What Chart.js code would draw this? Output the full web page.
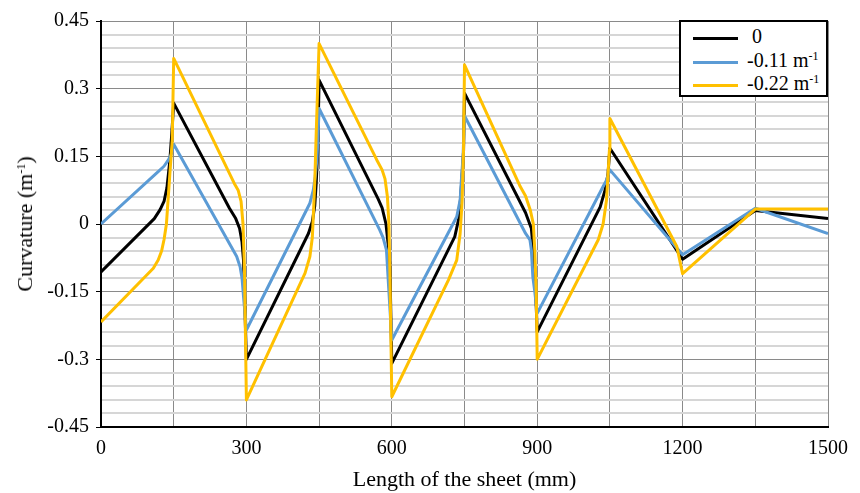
<!DOCTYPE html>
<html>
<head>
<meta charset="utf-8">
<script src="https://cdn.jsdelivr.net/npm/chart.js@4.4.1/dist/chart.umd.min.js"></script>
<style>
    body { margin: 0; background: #fff; }
    .wrap { position: relative; width: 860px; height: 493px; font-family: 'Liberation Serif', 'Times New Roman', serif; color: #000; }
    .y-title { position: absolute; left: 25px; top: 224px; transform: translate(-50%, -50%) rotate(-90deg); white-space: nowrap; font-size: 22px; }
    .legend { position: absolute; left: 679px; top: 20px; width: 145px; height: 73px; border: 2px solid #000; background: #fff; font-size: 20px; }
    .legend-row { position: absolute; left: 12px; height: 22px; line-height: 22px; white-space: nowrap; }
    .legend-line { display: inline-block; width: 45px; height: 3px; vertical-align: middle; margin-right: 9px; }
    sup { font-size: 12px; vertical-align: 7px; line-height: 0; }
</style>
</head>
<body>
<div class="wrap">
    <canvas id="chart" width="860" height="493"></canvas>
    <div class="y-title">Curvature (m<sup>-1</sup>)</div>
    <div class="legend">
        <div class="legend-row" style="top:3px"><span class="legend-line" style="background:#000000"></span><span style="margin-left:5px">0</span></div>
        <div class="legend-row" style="top:27px"><span class="legend-line" style="background:#5b9bd5"></span>-0.11 m<sup>-1</sup></div>
        <div class="legend-row" style="top:50px"><span class="legend-line" style="background:#ffc000"></span>-0.22 m<sup>-1</sup></div>
    </div>
</div>
<script>
// curvature 0
const blackLength = [0, 110, 122, 130, 136, 142, 146, 150, 265, 278, 286, 291, 294, 300,
    428, 436, 441, 444, 447, 450, 572, 580, 588, 593, 596, 600,
    730, 739, 744, 748, 750, 876, 888, 892, 895, 900,
    1030, 1040, 1046, 1050, 1200, 1350, 1500];
const blackCurv = [-0.106, 0.012, 0.032, 0.05, 0.08, 0.14, 0.2, 0.268, 0.035, 0.012, -0.01, -0.04, -0.08, -0.30,
    -0.021, 0.005, 0.04, 0.09, 0.16, 0.319, 0.055, 0.036, 0.0, -0.05, -0.09, -0.309,
    -0.028, 0.016, 0.09, 0.16, 0.29, 0.025, -0.01, -0.06, -0.1, -0.239,
    0.038, 0.075, 0.11, 0.168, -0.078, 0.03, 0.012];

// curvature -0.11 m-1
const blueLength = [0, 118, 130, 139, 145, 150, 280, 287, 291, 294, 300,
    431, 438, 442, 446, 450, 575, 582, 589, 593, 600,
    734, 741, 744, 747, 750, 876, 885, 888, 891, 895, 900,
    1036, 1043, 1050, 1200, 1350, 1500];
const blueCurv = [0, 0.116, 0.128, 0.142, 0.155, 0.177, -0.072, -0.095, -0.12, -0.16, -0.235,
    0.046, 0.075, 0.105, 0.15, 0.256, -0.013, -0.03, -0.058, -0.131, -0.257,
    0.016, 0.053, 0.105, 0.15, 0.24, -0.021, -0.035, -0.058, -0.117, -0.15, -0.198,
    0.083, 0.097, 0.12, -0.068, 0.035, -0.021];

// curvature -0.22 m-1
const yellowLength = [0, 108, 118, 125, 130, 135, 142, 147, 150, 275, 283, 289, 293, 296, 300,
    421, 431, 436, 438, 441, 444, 450, 569, 580, 586, 591, 594, 596, 600,
    717, 734, 741, 745, 748, 750, 865, 876, 886, 892, 895, 898, 900,
    1026, 1036, 1043, 1049, 1050, 1188, 1195, 1200, 1350, 1500];
const yellowCurv = [-0.217, -0.098, -0.08, -0.06, -0.035, 0.0, 0.11, 0.186, 0.367, 0.09, 0.075, 0.05, 0.0, -0.1, -0.39,
    -0.109, -0.072, -0.03, 0.016, 0.09, 0.2, 0.40, 0.142, 0.12, 0.1, 0.06, 0.0, -0.1, -0.383,
    -0.124, -0.08, -0.021, 0.05, 0.164, 0.353, 0.083, 0.062, 0.03, 0.0, -0.058, -0.15, -0.30,
    -0.035, 0.0, 0.053, 0.164, 0.234, -0.05, -0.085, -0.11, 0.033, 0.033];

const xTickLabels = [0, 300, 600, 900, 1200, 1500];
const yTickLabels = [-0.45, -0.3, -0.15, 0, 0.15, 0.3, 0.45];

const FONT = "'Liberation Serif', 'Times New Roman', serif";

const toPoints = (xs, ys) => xs.map((x, i) => ({ x: x, y: ys[i] }));
const isMajorY = v => yTickLabels.some(t => Math.abs(t - v) < 1e-6);

function series(label, xs, ys, color, order) {
    return {
        label: label,
        data: toPoints(xs, ys),
        borderColor: color,
        borderWidth: 3,
        borderJoinStyle: 'round',
        pointRadius: 0,
        tension: 0,
        fill: false,
        order: order
    };
}

new Chart(document.getElementById('chart'), {
    type: 'line',
    data: {
        datasets: [
            series('0', blackLength, blackCurv, '#000000', 3),
            series('-0.11 m-1', blueLength, blueCurv, '#5b9bd5', 2),
            series('-0.22 m-1', yellowLength, yellowCurv, '#ffc000', 1)
        ]
    },
    options: {
        responsive: false,
        animation: false,
        layout: { padding: { top: 21, right: 32, bottom: 0, left: 0 } },
        plugins: {
            legend: { display: false },
            tooltip: { enabled: false }
        },
        scales: {
            x: {
                type: 'linear',
                min: 0,
                max: 1500,
                ticks: {
                    stepSize: 150,
                    autoSkip: false,
                    maxRotation: 0,
                    color: '#000',
                    padding: 10,
                    font: { family: FONT, size: 20 },
                    callback: v => xTickLabels.includes(v) ? String(v) : ''
                },
                grid: { color: '#8a8a8a', lineWidth: 1, drawTicks: false },
                border: { color: '#000', width: 2 },
                title: {
                    display: true,
                    text: 'Length of the sheet (mm)',
                    color: '#000',
                    font: { family: FONT, size: 22 },
                    padding: 0
                },
                afterFit: scale => { scale.height = 66; }
            },
            y: {
                min: -0.45,
                max: 0.45,
                ticks: {
                    stepSize: 0.03,
                    autoSkip: false,
                    color: '#000',
                    padding: 7,
                    font: { family: FONT, size: 20 },
                    callback: v => isMajorY(v) ? String(Math.round(v * 100) / 100 || 0) : ''
                },
                grid: {
                    color: c => (c.tick && isMajorY(c.tick.value)) ? '#8a8a8a' : '#d6d6d6',
                    lineWidth: c => (c.tick && isMajorY(c.tick.value)) ? 1 : 2,
                    tickColor: c => (c.tick && isMajorY(c.tick.value)) ? '#000' : 'rgba(0,0,0,0)',
                    tickLength: 5
                },
                border: { color: '#000', width: 2 },
                afterFit: scale => { scale.width = 101; }
            }
        }
    }
});
</script>
</body>
</html>
